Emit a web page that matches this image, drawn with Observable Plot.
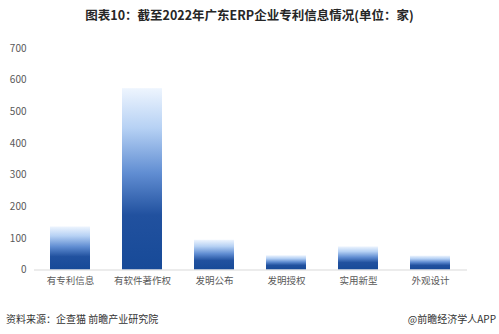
<!DOCTYPE html>
<html>
<head>
<meta charset="utf-8">
<script src="https://cdn.jsdelivr.net/npm/d3@7"></script>
<script src="https://cdn.jsdelivr.net/npm/@observablehq/plot@0.6"></script>
<style>
  html, body { margin: 0; padding: 0; background: #fff; }
  body { width: 499px; height: 334px; overflow: hidden; font-family: "Noto Sans CJK SC", "Noto Sans", sans-serif; }
  #title { height: 30px; line-height: 30px; text-align: center; font-size: 12.5px; font-weight: bold; color: #262626; }
  #chart { height: 265px; }
  #footer { position: relative; height: 39px; font-size: 10px; color: #333; }
  #footer .l { position: absolute; left: 6px; top: 16px; }
  #footer .r { position: absolute; right: 3px; top: 16px; }
</style>
</head>
<body>
<div id="title">图表10：截至2022年广东ERP企业专利信息情况(单位：家)</div>
<div id="chart"></div>
<div id="footer"><span class="l">资料来源：企查猫 前瞻产业研究院</span><span class="r">@前瞻经济学人APP</span></div>
<script>
const categories = ["有专利信息", "有软件著作权", "发明公布", "发明授权", "实用新型", "外观设计"];
const values = [136, 573, 94, 45, 73, 44];
const yTicks = [0, 100, 200, 300, 400, 500, 600, 700];

const data = categories.map((c, i) => ({category: c, value: values[i]}));

function gradientDefs() {
  const ns = "http://www.w3.org/2000/svg";
  const defs = document.createElementNS(ns, "defs");
  const g = document.createElementNS(ns, "linearGradient");
  g.setAttribute("id", "barGrad");
  g.setAttribute("x1", "0"); g.setAttribute("y1", "0");
  g.setAttribute("x2", "0"); g.setAttribute("y2", "1");
  const stops = [["0%", "#eef5fe"], ["22%", "#b6d1f4"], ["47%", "#608dd2"], ["70%", "#21519f"], ["100%", "#174a98"]];
  for (const [o, c] of stops) {
    const s = document.createElementNS(ns, "stop");
    s.setAttribute("offset", o);
    s.setAttribute("stop-color", c);
    g.appendChild(s);
  }
  defs.appendChild(g);
  return defs;
}

const chart = Plot.plot({
  width: 499,
  height: 265,
  marginTop: 18,
  marginBottom: 25.5,
  marginLeft: 34,
  marginRight: 32,
  style: {fontFamily: "'Noto Sans CJK SC', 'Liberation Sans', sans-serif", color: "#595959", background: "#fff"},
  x: {domain: categories, paddingInner: 0.444, paddingOuter: 0.222, label: null, tickSize: 0, tickPadding: 7},
  y: {domain: [0, 700], ticks: yTicks, label: null, tickSize: 0, tickPadding: 8},
  marks: [
    gradientDefs,
    Plot.barY(data, {x: "category", y: "value", fill: "url(#barGrad)"}),
    Plot.ruleY([0], {stroke: "#d9d9d9", strokeWidth: 1}),
    Plot.axisY({ticks: yTicks, tickSize: 0, tickPadding: 8, label: null, fontSize: 10, fill: "#595959"}),
    Plot.axisX({tickSize: 0, tickPadding: 7, label: null, fontSize: 9.5, fill: "#595959"})
  ]
});
document.getElementById("chart").appendChild(chart);
</script>
</body>
</html>
